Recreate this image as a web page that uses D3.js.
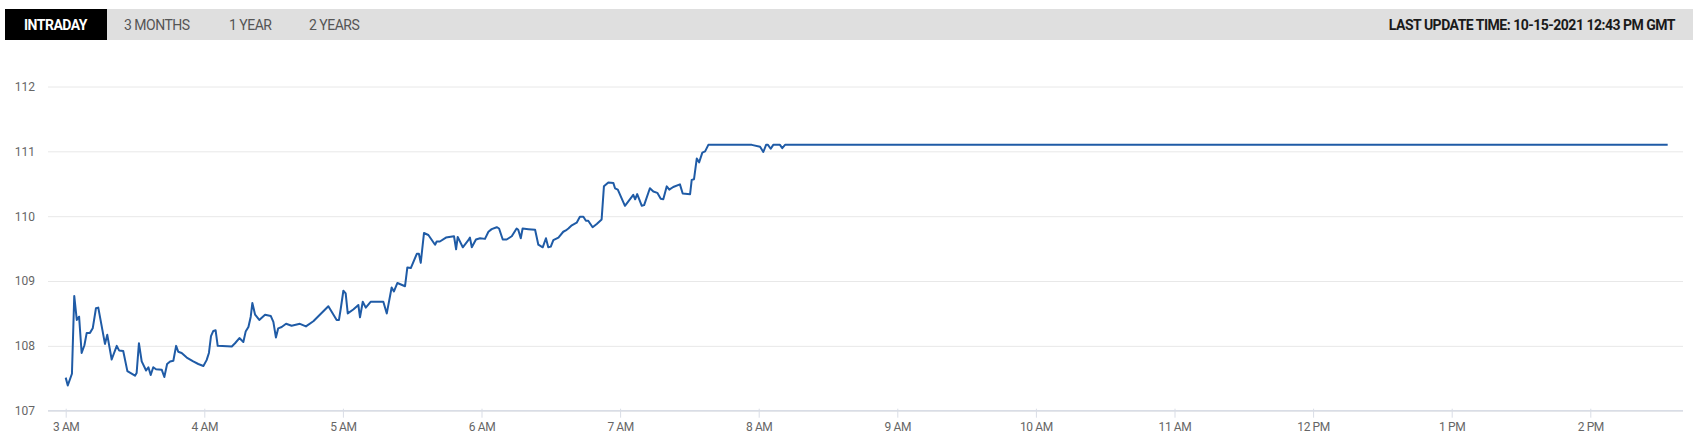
<!DOCTYPE html>
<html>
<head>
<meta charset="utf-8">
<script src="https://cdn.jsdelivr.net/npm/d3@7"></script>
<style>
  html, body { margin: 0; padding: 0; background: #fff; }
  svg { display: block; }
</style>
</head>
<body>
<svg id="chart" width="1706" height="443"></svg>
<script>
// ---- data (minutes after 3:00 AM, price) ----
const tabs = ["INTRADAY", "3 MONTHS", "1 YEAR", "2 YEARS"];
const updateText = "LAST UPDATE TIME: 10-15-2021 12:43 PM GMT";
const minutesAfter3 = [
  0, 0.9, 2.7, 3.7, 4.8, 5.8, 6.9, 8.1, 9.1, 10.5, 11.7, 13.1, 14.1, 17.0, 18.0, 19.9,
  22.1, 23.1, 24.9, 26.7, 30.0, 30.7, 31.7, 32.9, 34.8, 35.8, 36.8, 37.9, 39.1, 41.6,
  42.7, 43.9, 45.2, 46.6, 47.8, 48.7, 50.2, 52.4, 55.2, 57.4, 59.6, 61.0, 62.0, 62.9,
  63.9, 64.9, 65.8, 71.9, 73.3, 75.2, 76.9, 77.9, 79.1, 80.1, 80.8, 82.0, 83.8, 86.3,
  88.8, 89.9, 91.0, 92.0, 93.5, 95.4, 97.8, 101.4, 104.0, 107.2, 113.7, 115.6, 117.3,
  118.3, 119.1, 120.2, 121.2, 122.1, 124.5, 126.7, 127.4, 128.6, 129.9, 132.0, 137.5,
  139.0, 141.1, 142.1, 143.6, 146.9, 147.9, 149.4, 152.0, 152.9, 153.7, 155.1, 157.0,
  159.9, 160.6, 162.0, 164.6, 168.1, 169.0, 169.7, 171.9, 174.3, 175.0, 175.8, 177.6,
  179.4, 181.5, 183.0, 184.4, 186.6, 187.6, 189.2, 190.9, 193.1, 195.2, 195.9, 197.0,
  197.8, 200.3, 203.2, 204.6, 206.5, 207.9, 208.9, 210.0, 211.1, 213.3, 215.4, 216.5,
  217.6, 219.1, 221.2, 222.6, 224.1, 225.2, 226.2, 228.1, 229.9, 232.0, 233.0, 234.9,
  237.1, 237.8, 239.0, 242.1, 245.7, 246.5, 247.4, 249.4, 250.4, 252.9, 254.4, 256.1,
  257.6, 258.7, 260.2, 261.3, 263.0, 265.9, 267.1, 270.3, 271.0, 272.0, 273.2, 274.2,
  275.6, 276.8, 278.2, 297.0, 300.6, 302.0, 303.2, 304.0, 305.2, 306.3, 309.2, 310.2,
  311.4, 693.5
];
const prices = [
  107.51, 107.39, 107.57, 108.77, 108.40, 108.45, 107.89, 108.01, 108.20, 108.20, 108.27, 108.58, 108.59, 108.03, 108.17, 107.79,
  108.00, 107.93, 107.92, 107.61, 107.54, 107.58, 108.04, 107.76, 107.62, 107.67, 107.55, 107.67, 107.64, 107.63,
  107.52, 107.72, 107.76, 107.77, 108.00, 107.91, 107.89, 107.82, 107.76, 107.72, 107.69, 107.78, 107.89, 108.15,
  108.23, 108.24, 108.00, 107.99, 108.04, 108.12, 108.06, 108.22, 108.29, 108.45, 108.66, 108.48, 108.40, 108.48,
  108.46, 108.37, 108.13, 108.27, 108.29, 108.34, 108.31, 108.34, 108.30, 108.38, 108.61, 108.50, 108.40,
  108.40, 108.58, 108.85, 108.81, 108.50, 108.56, 108.63, 108.44, 108.68, 108.59, 108.68, 108.68,
  108.50, 108.90, 108.84, 108.97, 108.92, 109.21, 109.20, 109.42, 109.42, 109.28, 109.74, 109.71,
  109.56, 109.61, 109.61, 109.67, 109.69, 109.49, 109.68, 109.52, 109.63, 109.67, 109.52, 109.64,
  109.66, 109.65, 109.76, 109.80, 109.83, 109.81, 109.64, 109.64, 109.69, 109.81, 109.79, 109.66,
  109.81, 109.80, 109.79, 109.56, 109.52, 109.66, 109.52, 109.53, 109.63, 109.67, 109.76, 109.78,
  109.81, 109.86, 109.90, 109.99, 109.99, 109.93, 109.93, 109.83, 109.88, 109.95, 110.46, 110.52,
  110.51, 110.43, 110.41, 110.16, 110.33, 110.26, 110.34, 110.16, 110.17, 110.43, 110.38, 110.36,
  110.27, 110.26, 110.46, 110.41, 110.45, 110.49, 110.35, 110.34, 110.56, 110.57, 110.89, 110.83,
  110.98, 111.00, 111.10, 111.10, 111.07, 110.99, 111.10, 111.10, 111.04, 111.10, 111.10, 111.05,
  111.10, 111.10
];
const yTicks = [107, 108, 109, 110, 111, 112];
const xTickHours = [3, 4, 5, 6, 7, 8, 9, 10, 11, 12, 13, 14];

// ---- build ----
const base = new Date(2021, 9, 15, 3, 0, 0);
const data = minutesAfter3.map((m, i) => ({ t: new Date(base.getTime() + m * 60000), v: prices[i] }));
const xTickDates = xTickHours.map(h => new Date(2021, 9, 15, h, 0, 0));

const svg = d3.select("#chart");
const font = "Roboto, 'Liberation Sans', Arial, sans-serif";

// header bar
svg.append("rect").attr("x", 5).attr("y", 9).attr("width", 1688).attr("height", 31).attr("fill", "#dfdfdf");
svg.append("rect").attr("x", 5).attr("y", 9).attr("width", 102).attr("height", 31).attr("fill", "#000");
const tabX = [24, 124, 229, 309];
tabs.forEach((t, i) => {
  svg.append("text").attr("x", tabX[i]).attr("y", 29.5)
    .attr("font-family", font).attr("font-size", 14).attr("letter-spacing", "-0.5")
    .attr("font-weight", i === 0 ? 700 : 400)
    .attr("fill", i === 0 ? "#fff" : "#555").text(t);
});
svg.append("text").attr("x", 1675).attr("y", 29.5).attr("text-anchor", "end")
  .attr("font-family", font).attr("font-size", 14).attr("font-weight", 700)
  .attr("letter-spacing", "-0.5").attr("fill", "#1a1a1a").text(updateText);

// scales
const x = d3.scaleTime()
  .domain([new Date(2021, 9, 15, 3, 0), new Date(2021, 9, 15, 14, 0)])
  .range([65.7, 65.7 + 138.6 * 11]);
const y = d3.scaleLinear().domain([107, 112]).range([410.7, 86.5]);

const gridX0 = 48, gridX1 = 1683;

// grid lines + y labels
const gy = svg.append("g").attr("transform", `translate(${gridX0},0)`)
  .call(d3.axisLeft(y).tickValues(yTicks).tickSize(-(gridX1 - gridX0)).tickPadding(13).tickFormat(d3.format("d")));
gy.select(".domain").remove();
gy.selectAll(".tick line").attr("stroke", "#e8e8e8").attr("stroke-width", 1);
gy.selectAll(".tick text").attr("font-family", font).attr("font-size", 12).attr("fill", "#666");

// x axis
const gx = svg.append("g").attr("transform", `translate(0,${y(107)})`)
  .call(d3.axisBottom(x).tickValues(xTickDates).tickSize(7).tickPadding(5)
    .tickFormat(d => { const h = d.getHours(); const hh = h % 12 === 0 ? 12 : h % 12; return hh + (h < 12 ? " AM" : " PM"); }));
gx.select(".domain").remove();
gx.selectAll(".tick line").attr("stroke", "#d9dde6").attr("y1", -2);
gx.selectAll(".tick text").attr("font-family", font).attr("font-size", 12).attr("letter-spacing", "-0.4").attr("fill", "#666");
svg.append("line").attr("x1", gridX0).attr("x2", gridX1).attr("y1", y(107)).attr("y2", y(107))
  .attr("stroke", "#d9dde6").attr("stroke-width", 1.5);

// price line
const line = d3.line().x(d => x(d.t)).y(d => y(d.v)).curve(d3.curveLinear);
svg.append("path").datum(data).attr("d", line)
  .attr("fill", "none").attr("stroke", "#1f5ba6").attr("stroke-width", 2).attr("stroke-linejoin", "round");
</script>
</body>
</html>
